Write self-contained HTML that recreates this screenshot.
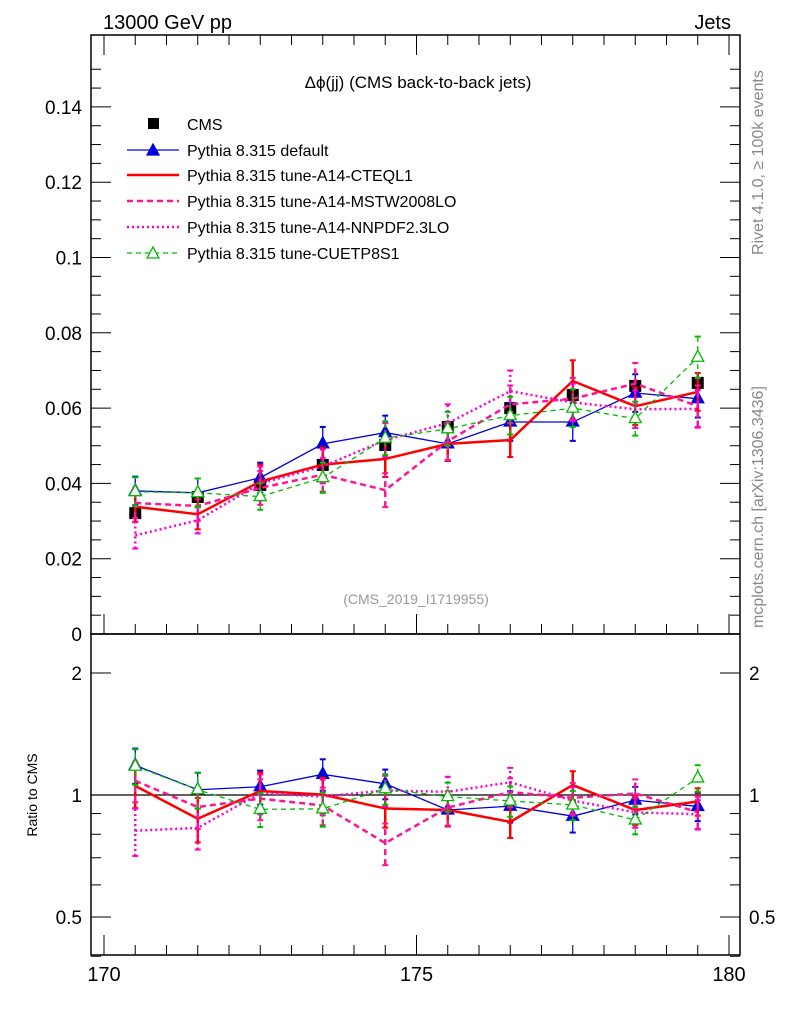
<!DOCTYPE html>
<html><head><meta charset="utf-8"><style>
body{margin:0;background:#fff;}
svg{display:block;font-family:"Liberation Sans",sans-serif;}
</style></head><body>
<svg id="c" width="786" height="1024" xmlns="http://www.w3.org/2000/svg">
<text x="103" y="29" font-size="20">13000 GeV pp</text>
<text x="731" y="29" font-size="20" text-anchor="end">Jets</text>
<text x="418" y="88" font-size="17" text-anchor="middle">Δϕ(jj) (CMS back-to-back jets)</text>
<text x="416" y="604" font-size="14" fill="#999" text-anchor="middle">(CMS_2019_I1719955)</text>
<text transform="translate(763,255) rotate(-90)" font-size="16" fill="#888">Rivet 4.1.0, ≥ 100k events</text>
<text transform="translate(763,628) rotate(-90)" font-size="16" fill="#888">mcplots.cern.ch [arXiv:1306.3436]</text>
<text transform="translate(37,795) rotate(-90)" font-size="14" text-anchor="middle">Ratio to CMS</text>
<g id="axes"></g><g id="marks"></g><g id="legend"></g>
</svg>
<script>
const xs=[170.5,171.5,172.5,173.5,174.5,175.5,176.5,177.5,178.5,179.5];
const cms=[0.0321,0.0364,0.0396,0.0449,0.0502,0.0550,0.0600,0.0635,0.0659,0.0667];
const cmsErr=[0.0010,0.0010,0.0010,0.0012,0.0012,0.0012,0.0013,0.0013,0.0013,0.0013];
const pyDef=[0.0380,0.0375,0.0415,0.0505,0.0535,0.0505,0.0563,0.0563,0.0640,0.0625];
const pyDefErr=[0.0038,0.0038,0.0040,0.0045,0.0045,0.0045,0.0050,0.0050,0.0050,0.0050];
const pyCteq=[0.0338,0.0318,0.0405,0.0450,0.0465,0.0505,0.0515,0.0672,0.0605,0.0643];
const pyCteqErr=[0.0040,0.0040,0.0045,0.0045,0.0048,0.0045,0.0045,0.0055,0.0050,0.0050];
const pyMstw=[0.0348,0.0340,0.0388,0.0423,0.0382,0.0512,0.0610,0.0625,0.0665,0.0605];
const pyMstwErr=[0.0040,0.0040,0.0045,0.0045,0.0045,0.0050,0.0050,0.0055,0.0055,0.0055];
const pyNnpdf=[0.0262,0.0302,0.0400,0.0445,0.0515,0.0560,0.0645,0.0615,0.0597,0.0598];
const pyNnpdfErr=[0.0035,0.0035,0.0045,0.0045,0.0045,0.0050,0.0055,0.0050,0.0050,0.0050];
const pyCuetp=[0.0378,0.0375,0.0365,0.0415,0.0520,0.0545,0.0580,0.0600,0.0572,0.0735];
const pyCuetpErr=[0.0038,0.0038,0.0035,0.0040,0.0045,0.0045,0.0050,0.0050,0.0045,0.0055];
const yTicks=[0,0.02,0.04,0.06,0.08,0.1,0.12,0.14];
const yTickLabels=["0","0.02","0.04","0.06","0.08","0.1","0.12","0.14"];
const rTicks=[0.5,1,2];
const xTicks=[170,175,180];

const NS="http://www.w3.org/2000/svg";
const L=91,R=740,T=35,MB=634,RB=955;
const X=v=>104+(v-170)*62.5;
const Y=v=>MB-v*3765;
const YR=v=>795-Math.log2(v)*122;
function el(tag,attrs,parent){const e=document.createElementNS(NS,tag);for(const k in attrs)e.setAttribute(k,attrs[k]);parent.appendChild(e);return e;}
const ax=document.getElementById('axes'),mk=document.getElementById('marks'),lg=document.getElementById('legend');
let f=el('rect',{x:L,y:T,width:R-L,height:MB-T,fill:'none',stroke:'#000','stroke-width':1.5},ax);

f=el('rect',{x:L,y:MB,width:R-L,height:RB-MB,fill:'none',stroke:'#000','stroke-width':1.5},ax);

for(let v=0;v<=0.155;v+=0.005){const y=Y(v);const maj=Math.abs(v/0.02-Math.round(v/0.02))<1e-6;const len=maj?20:10;
el('line',{x1:L,x2:L+len,y1:y,y2:y,stroke:'#000'},ax);el('line',{x1:R,x2:R-len,y1:y,y2:y,stroke:'#000'},ax);}
yTicks.forEach((v,i)=>{const t=el('text',{x:82,y:Y(v)+7,'font-size':19,'text-anchor':'end'},ax);t.textContent=yTickLabels[i];
});
for(let v=170;v<=180.01;v+=0.5){const maj=Math.abs(v-Math.round(v/5)*5)<1e-6;const len=maj?20:10;const x=X(v);
el('line',{x1:x,x2:x,y1:MB,y2:MB-len,stroke:'#000'},ax);el('line',{x1:x,x2:x,y1:RB,y2:RB-len,stroke:'#000'},ax);el('line',{x1:x,x2:x,y1:T,y2:T+len,stroke:'#000'},ax);}
xTicks.forEach(v=>{const t=el('text',{x:X(v),y:981,'font-size':20,'text-anchor':'middle'},ax);t.textContent=String(v);
});
[0.4,0.5,0.6,0.7,0.8,0.9,1,2].forEach(v=>{const maj=rTicks.includes(v);const len=maj?20:10;const y=YR(v);
el('line',{x1:L,x2:L+len,y1:y,y2:y,stroke:'#000'},ax);el('line',{x1:R,x2:R-len,y1:y,y2:y,stroke:'#000'},ax);});
rTicks.forEach(v=>{let t=el('text',{x:82,y:YR(v)+7,'font-size':19,'text-anchor':'end'},ax);t.textContent=String(v);

t=el('text',{x:749,y:YR(v)+7,'font-size':19},ax);t.textContent=String(v);
});
el('line',{x1:L,x2:R,y1:YR(1),y2:YR(1),stroke:'#000','stroke-width':1.2},ax);

const series=[
 {name:'pythia-default',vals:pyDef,err:pyDefErr,color:'#0000dd',w:1.3,dash:'',mark:'tri',fill:true,label:'Pythia 8.315 default'},
 {name:'pythia-a14-cteql1',vals:pyCteq,err:pyCteqErr,color:'#ff0000',w:2.5,dash:'',mark:'none',label:'Pythia 8.315 tune-A14-CTEQL1'},
 {name:'pythia-a14-mstw2008lo',vals:pyMstw,err:pyMstwErr,color:'#ff1493',w:2.5,dash:'6,4',mark:'none',label:'Pythia 8.315 tune-A14-MSTW2008LO'},
 {name:'pythia-a14-nnpdf23lo',vals:pyNnpdf,err:pyNnpdfErr,color:'#ff00cc',w:2.5,dash:'2,3',mark:'none',label:'Pythia 8.315 tune-A14-NNPDF2.3LO'},
 {name:'pythia-cuetp8s1',vals:pyCuetp,err:pyCuetpErr,color:'#00bb00',w:1.3,dash:'5,4',mark:'tri',fill:false,label:'Pythia 8.315 tune-CUETP8S1'}];
function tri(g,x,y,s){el('path',{d:`M${x},${y-7}L${x+6},${y+4}L${x-6},${y+4}Z`,fill:s.fill?s.color:'#fff',stroke:s.color,'stroke-width':1.3},g);}
function drawSeries(s,yf,vals,errs,tag){
 const g=el('g',{},mk);
 el('polyline',{points:xs.map((x,i)=>X(x)+','+yf(vals[i])).join(' '),fill:'none',stroke:s.color,'stroke-width':s.w,'stroke-dasharray':s.dash},g);
 xs.forEach((x,i)=>{const px=X(x);el('line',{x1:px,x2:px,y1:yf(vals[i]-errs[i]),y2:yf(vals[i]+errs[i]),stroke:s.color,'stroke-width':s.w,'stroke-dasharray':s.dash},g);
  el('line',{x1:px-3,x2:px+3,y1:yf(vals[i]-errs[i]),y2:yf(vals[i]-errs[i]),stroke:s.color,'stroke-width':2},g);
  el('line',{x1:px-3,x2:px+3,y1:yf(vals[i]+errs[i]),y2:yf(vals[i]+errs[i]),stroke:s.color,'stroke-width':2},g);
  if(s.mark==='tri')tri(g,px,yf(vals[i]),s);});
}
const cg=el('g',{},mk);
xs.forEach((x,i)=>{el('rect',{x:X(x)-6,y:Y(cms[i])-6,width:12,height:12,fill:'#000'},cg);
 el('line',{x1:X(x),x2:X(x),y1:Y(cms[i]-cmsErr[i]),y2:Y(cms[i]+cmsErr[i]),stroke:'#000','stroke-width':1.5},cg);});
series.forEach(s=>drawSeries(s,Y,s.vals,s.err,'-main'));
series.forEach(s=>drawSeries(s,YR,s.vals.map((v,i)=>v/cms[i]),s.err.map((e,i)=>e/cms[i]),'-ratio'));
const ly=[124,150,175,201,227,253];
let e=el('rect',{x:148,y:ly[0]-6,width:11,height:11,fill:'#000'},lg);
let t=el('text',{x:187,y:ly[0]+6,'font-size':16},lg);t.textContent='CMS';
series.forEach((s,k)=>{const y=ly[k+1];const g=el('g',{},lg);
 el('line',{x1:127,x2:179,y1:y,y2:y,stroke:s.color,'stroke-width':s.w,'stroke-dasharray':s.dash},g);
 if(s.mark==='tri')tri(g,153,y+1,s);
 const tt=el('text',{x:187,y:y+6,'font-size':16},g);tt.textContent=s.label;});
</script>
</body></html>
